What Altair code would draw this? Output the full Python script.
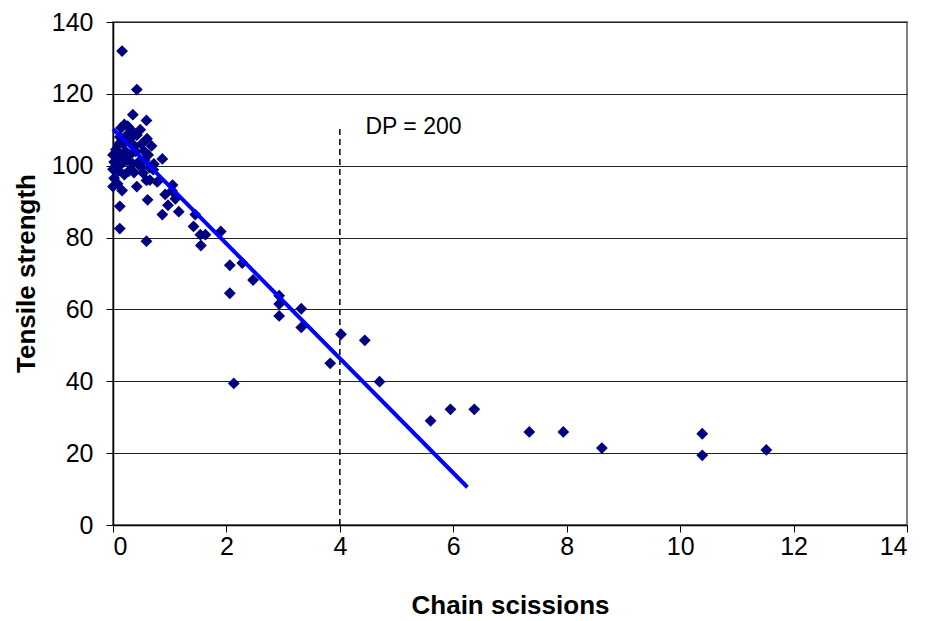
import altair as alt
import pandas as pd

# Scatter data (chain scissions, tensile strength)
x_vals = [0.16, 0.42, 0.35, 0.59, 0.87, 0.12, 0.12, 0.59, 0.16, 0.42,
          0.61, 0.87, 1.16, 1.05, 0.59, 0.37, 0.00, 1.45, 1.42, 1.54,
          1.63, 1.55, 1.90, 2.06, 2.28, 2.06, 2.47, 2.93, 2.93, 2.93,
          3.32, 3.32, 4.02, 4.44, 3.83, 4.70, 2.13, 5.60, 5.95, 6.37,
          7.34, 7.94, 8.62, 10.39, 10.39, 11.52,
          0.92, 1.04, 1.10, 0.97, 0.71, 0.78, 0.65, 0.53,
          0.02, 0.00, 0.02, 0.00, 0.05, 0.05, 0.08, 0.10, 0.12, 0.14,
          0.20, 0.26, 0.18, 0.22, 0.15, 0.10, 0.25, 0.30, 0.30, 0.35,
          0.42, 0.48, 0.50, 0.55, 0.62, 0.68, 0.40, 0.45, 0.35, 0.28,
          0.50, 0.56, 0.20, 0.08, 0.65, 0.72, 0.38, 0.24, 0.60, 0.15]
y_vals = [131.9, 121.2, 114.2, 112.6, 101.9, 88.7, 82.5, 79.0, 93.1, 94.2,
          90.5, 86.4, 87.2, 94.6, 95.9, 98.1, 94.2, 86.4, 83.1, 80.8,
          80.8, 77.8, 81.7, 72.3, 72.9, 64.5, 68.2, 63.8, 61.5, 58.2,
          60.2, 55.0, 53.1, 51.4, 45.0, 39.9, 39.4, 29.0, 32.2, 32.2,
          25.9, 25.9, 21.4, 25.4, 19.4, 20.9,
          92.0, 93.0, 90.8, 89.0, 98.9, 95.5, 96.0, 98.0,
          96.5, 99.0, 101.0, 103.0, 104.5, 100.0, 102.5, 106.0, 108.0, 110.5,
          111.5, 111.0, 106.0, 104.0, 100.5, 98.5, 101.5, 103.0, 107.5, 109.5,
          108.5, 110.0, 106.0, 104.0, 103.0, 105.5, 104.0, 101.0, 100.5, 98.5,
          99.5, 101.5, 97.5, 95.0, 99.5, 100.5, 105.5, 108.5, 107.5, 103.0]

# Trend line end points
fit_x = [0.0, 6.25]
fit_y = [110.2, 10.5]

# Vertical reference line (DP = 200)
ref_x = [4.0, 4.0]
ref_y = [0.0, 110.6]
label_text = ["DP = 200"]
label_x = [4.45]
label_y = [110.9]

x_ticks = [0, 2, 4, 6, 8, 10, 12, 14]
y_ticks = [0, 20, 40, 60, 80, 100, 120, 140]

pts = pd.DataFrame({"x": x_vals, "y": y_vals})
fit = pd.DataFrame({"x": fit_x, "y": fit_y})
ref = pd.DataFrame({"x": ref_x, "y": ref_y})
lab = pd.DataFrame({"x": label_x, "y": label_y, "t": label_text})

FONT = "Liberation Sans"

xscale = alt.Scale(domain=[0, 14], nice=False, zero=False)
yscale = alt.Scale(domain=[0, 140], nice=False, zero=False)

xaxis = alt.Axis(
    title="Chain scissions", values=x_ticks, grid=False, format="d",
    labelFont=FONT, labelFontSize=25, labelColor="black", labelPadding=2,
    tickSize=7, tickColor="black", domainColor="black", domainWidth=1.5,
    titleFont=FONT, titleFontSize=26, titleFontWeight="bold", titleColor="black",
    titleY=80, titleBaseline="middle",
)
yaxis = alt.Axis(
    title="Tensile strength", values=y_ticks, grid=True, gridColor="#222222",
    gridWidth=1, format="d", labelFont=FONT, labelFontSize=25, labelColor="black",
    labelPadding=13, tickSize=7, tickColor="black", domainColor="black",
    domainWidth=1.5, titleFont=FONT, titleFontSize=26, titleFontWeight="bold",
    titleColor="black", titleX=-87, titleY=251, titleBaseline="middle",
)

base_x = alt.X("x:Q", scale=xscale, axis=xaxis)
base_y = alt.Y("y:Q", scale=yscale, axis=yaxis)

points = alt.Chart(pts).mark_point(
    shape="diamond", filled=True, color="#000080", size=140, opacity=1
).encode(x=base_x, y=base_y)

trend = alt.Chart(fit).mark_line(color="#0000FF", strokeWidth=4).encode(
    x=alt.X("x:Q", scale=xscale), y=alt.Y("y:Q", scale=yscale)
)

dashed = alt.Chart(ref).mark_line(
    color="black", strokeWidth=1.5, strokeDash=[6, 4]
).encode(x=alt.X("x:Q", scale=xscale), y=alt.Y("y:Q", scale=yscale))

label = alt.Chart(lab).mark_text(
    align="left", baseline="middle", font=FONT, fontSize=23, color="black"
).encode(x=alt.X("x:Q", scale=xscale), y=alt.Y("y:Q", scale=yscale), text="t:N")

chart = alt.layer(dashed, points, trend, label).properties(
    width=794, height=503,
    autosize=alt.AutoSizeParams(type="none"),
    padding={"left": 113, "top": 22, "right": 18, "bottom": 96},
    background="white",
).configure_view(stroke="#808080", strokeWidth=2)

chart.save("out.html", embed_options={"renderer": "svg", "actions": False})
